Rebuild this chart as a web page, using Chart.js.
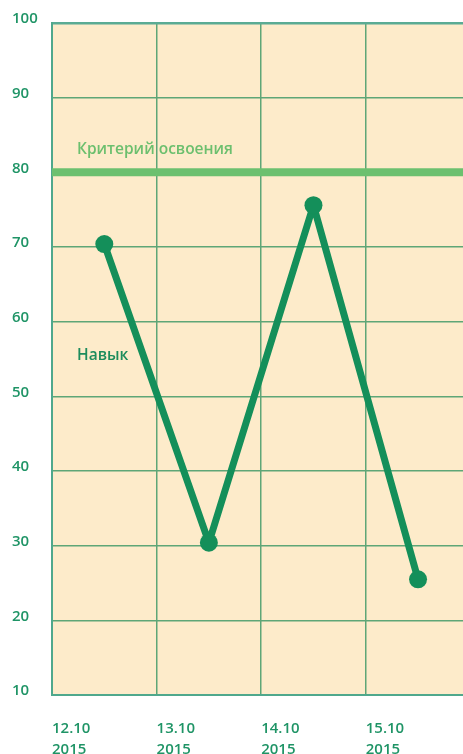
<!DOCTYPE html>
<html>
<head>
<meta charset="utf-8">
<script src="https://cdn.jsdelivr.net/npm/chart.js@4.4.0/dist/chart.umd.min.js"></script>
<style>
  html, body { margin: 0; padding: 0; background: #fff; }
  #wrap { width: 463px; height: 754px; }
</style>
</head>
<body>
<div id="wrap"><canvas id="skillChart" width="463" height="754"></canvas></div>
<script>
const dates = [['12.10', '2015'], ['13.10', '2015'], ['14.10', '2015'], ['15.10', '2015']];
const skill = [70.4, 30.4, 75.6, 25.5];
const criterion = 80;
const skillLabel = 'Навык';
const criterionLabel = 'Критерий освоения';

const FONT = '"Open Sans", sans-serif';
const xMax = 3.93; // plot is cut off at the right edge

// paint the pale background + the two text labels
const chartDecor = {
    id: 'chartDecor',
    beforeDraw(chart) {
        const a = chart.chartArea;
        const ctx = chart.ctx;
        ctx.save();
        ctx.fillStyle = '#fdebca';
        ctx.fillRect(a.left, a.top, a.right - a.left, a.bottom - a.top);
        ctx.restore();
    },
    afterDatasetsDraw(chart) {
        const a = chart.chartArea;
        const y = chart.scales.y;
        const ctx = chart.ctx;
        ctx.save();
        ctx.font = '600 15.5px ' + FONT;
        ctx.textBaseline = 'middle';
        ctx.textAlign = 'left';
        ctx.fillStyle = '#6cbf6e';
        ctx.fillText(criterionLabel, a.left + 25, y.getPixelForValue(criterion) - 23);
        ctx.fillStyle = '#1d8c5c';
        ctx.fillText(skillLabel, a.left + 25, y.getPixelForValue(55.4));
        ctx.restore();
    }
};

new Chart(document.getElementById('skillChart'), {
    type: 'line',
    data: {
        datasets: [
            {
                label: criterionLabel,
                data: [{ x: 0, y: criterion }, { x: xMax, y: criterion }],
                borderColor: '#6cc06f',
                borderWidth: 8,
                pointRadius: 0,
                fill: false
            },
            {
                label: skillLabel,
                data: skill.map((v, i) => ({ x: i + 0.5, y: v })),
                borderColor: '#148f5a',
                backgroundColor: '#148f5a',
                pointBackgroundColor: '#148f5a',
                pointBorderWidth: 0,
                borderWidth: 7,
                borderJoinStyle: 'round',
                pointRadius: 9,
                tension: 0,
                fill: false
            }
        ]
    },
    options: {
        responsive: false,
        animation: false,
        layout: { autoPadding: false, padding: { left: 12, top: 23, right: 0, bottom: 0 } },
        plugins: { legend: { display: false }, tooltip: { enabled: false } },
        scales: {
            x: {
                type: 'linear',
                min: 0,
                max: xMax,
                afterFit(scale) {
                    scale.height = 59;
                    scale.paddingLeft = 0;
                    scale.paddingRight = 0;
                },
                border: { display: true, color: '#4fa88c', width: 2 },
                grid: {
                    drawTicks: false,
                    color: ctx => ctx.tick && Number.isInteger(ctx.tick.value) ? '#5ea677' : 'rgba(0,0,0,0)',
                    lineWidth: 1.5
                },
                ticks: {
                    stepSize: 1,
                    align: 'start',
                    padding: 24,
                    color: '#1f9466',
                    font: { family: FONT, size: 15, weight: '600', lineHeight: 1.35 },
                    maxRotation: 0,
                    autoSkip: false,
                    callback: v => dates[v] || ''
                }
            },
            y: {
                min: 10,
                max: 100,
                afterFit(scale) { scale.width = 40; },
                border: { display: true, color: '#4fa88c', width: 2 },
                grid: {
                    drawTicks: false,
                    color: ctx => ctx.tick && ctx.tick.value === 100 ? '#5aab94' : '#5ea677',
                    lineWidth: ctx => ctx.tick && ctx.tick.value === 100 ? 2.5 : 1.5
                },
                ticks: {
                    stepSize: 10,
                    crossAlign: 'far',
                    labelOffset: -4,
                    color: '#1f9466',
                    font: { family: FONT, size: 15, weight: '600' }
                }
            }
        }
    },
    plugins: [chartDecor]
});
</script>
</body>
</html>
